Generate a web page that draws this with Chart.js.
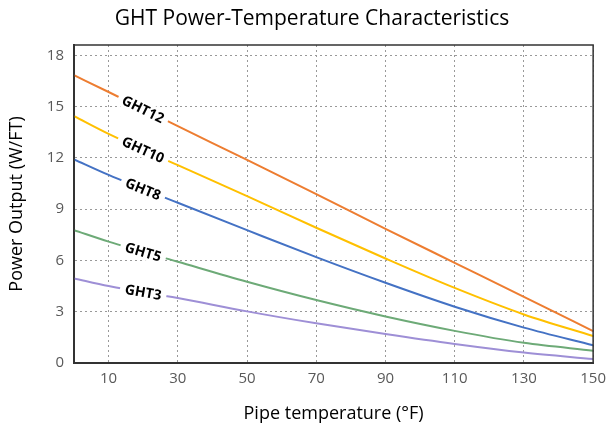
<!DOCTYPE html>
<html lang="en">
<head>
  <meta charset="UTF-8" />
  <title>GHT Power-Temperature Characteristics</title>
  <script src="https://cdn.jsdelivr.net/npm/chart.js"></script>
  <style>
    body { margin:0; background:#fff; }
    #ghtChart { display:block; }
  </style>
</head>
<body>
<canvas id="ghtChart" width="613" height="437"></canvas>

<script>
  /* ---------- data ---------- */
  const temps  = [0, 10, 30, 50, 70, 90, 110, 130, 150];
  const ght12  = [16.83, 15.85, 13.85, 11.88, 9.88, 7.85, 5.86, 3.87, 1.87];
  const ght10  = [14.44, 13.4, 11.57, 9.76, 7.91, 6.11, 4.39, 2.84, 1.58];
  const ght8   = [11.91, 11.0, 9.37, 7.77, 6.19, 4.69, 3.29, 2.07, 1.04];
  const ght5   = [7.77, 7.1, 5.92, 4.75, 3.68, 2.72, 1.88, 1.18, 0.72];
  const ght3   = [4.95, 4.5, 3.8, 3.02, 2.32, 1.69, 1.11, 0.61, 0.23];
  const xTicks = [10, 30, 50, 70, 90, 110, 130, 150];
  const yTicks = [0, 3, 6, 9, 12, 15, 18];
  const chartTitle = 'GHT Power-Temperature Characteristics';

  const FONT = "'Open Sans', sans-serif";
  const pts  = arr => arr.map((v,i) => ({x: temps[i], y: v}));

  const series = [
    {label:'GHT12', data:ght12, color:'#ED7D31'},
    {label:'GHT10', data:ght10, color:'#FFC000'},
    {label:'GHT8',  data:ght8,  color:'#4472C4'},
    {label:'GHT5',  data:ght5,  color:'#6DAA77'},
    {label:'GHT3',  data:ght3,  color:'#9E8FD6'}
  ];

  /* ---------- plugin: title, frame + inline series labels ---------- */
  const framePlugin = {
    id:'frame',
    afterDatasetsDraw(chart) {
      const {ctx, chartArea:a} = chart;
      ctx.save();
      ctx.strokeStyle = '#333';
      ctx.lineWidth = 1.5;
      ctx.strokeRect(a.left, a.top, a.right - a.left, a.bottom - a.top);

      // title, centred a bit right of the plot like the original
      ctx.fillStyle = '#000';
      ctx.font = `21px ${FONT}`;
      ctx.textAlign = 'center';
      ctx.textBaseline = 'middle';
      ctx.fillText(chartTitle, 312, 19);

      // labels sit on the line at 20°F, cutting a white gap
      ctx.font = `bold 14px ${FONT}`;
      chart.data.datasets.forEach((ds, i) => {
        const pt = chart.getDatasetMeta(i).data;
        const p1 = pt[1], p2 = pt[2];
        const cx = (p1.x + p2.x) / 2, cy = (p1.y + p2.y) / 2;
        const ang = Math.atan2(p2.y - p1.y, p2.x - p1.x);
        const w = ctx.measureText(ds.label).width + 10;
        ctx.save();
        ctx.translate(cx, cy);
        ctx.rotate(ang);
        ctx.fillStyle = '#fff';
        ctx.fillRect(-w/2, -8, w, 16);
        ctx.fillStyle = '#000';
        ctx.fillText(ds.label, 0, 1);
        ctx.restore();
      });
      ctx.restore();
    }
  };

  new Chart(document.getElementById('ghtChart'), {
    type:'line',
    data:{
      datasets: series.map(s => ({
        label:s.label, data:pts(s.data),
        borderColor:s.color, backgroundColor:s.color,
        borderWidth:2, pointRadius:0, fill:false,
        cubicInterpolationMode:'monotone'
      }))
    },
    options:{
      responsive:false, animation:false,
      layout:{ padding:{ left:0, right:16, top:45, bottom:0 } },
      plugins:{
        legend:{ display:false },
        tooltip:{ enabled:false },
        title:{ display:false }
      },
      scales:{
        x:{
          type:'linear', min:0, max:150,
          afterBuildTicks: s => { s.ticks = xTicks.map(v => ({value:v})); },
          afterFit: s => { s.height = 74; },
          grid:{ color:'#999', lineWidth:1, drawTicks:false },
          border:{ color:'#333', width:2, dash:[2,3] },
          ticks:{ color:'#595959', font:{ family:FONT, size:15 }, padding:7, maxRotation:0 },
          title:{ display:true, text:'Pipe temperature (°F)', color:'#000',
                  font:{ family:FONT, size:18 }, padding:{ top:0, bottom:12 } }
        },
        y:{
          min:0, max:18.6,
          afterBuildTicks: s => { s.ticks = yTicks.map(v => ({value:v})); },
          afterFit: s => { s.width = 74; },
          grid:{ color:'#999', lineWidth:1, drawTicks:false },
          border:{ color:'#333', width:2, dash:[2,3] },
          ticks:{ color:'#595959', font:{ family:FONT, size:15 }, padding:10 },
          title:{ display:true, text:'Power Output (W/FT)', color:'#000',
                  font:{ family:FONT, size:18 }, padding:{ top:6, bottom:0 } }
        }
      }
    },
    plugins:[framePlugin]
  });
</script>
</body>
</html>
